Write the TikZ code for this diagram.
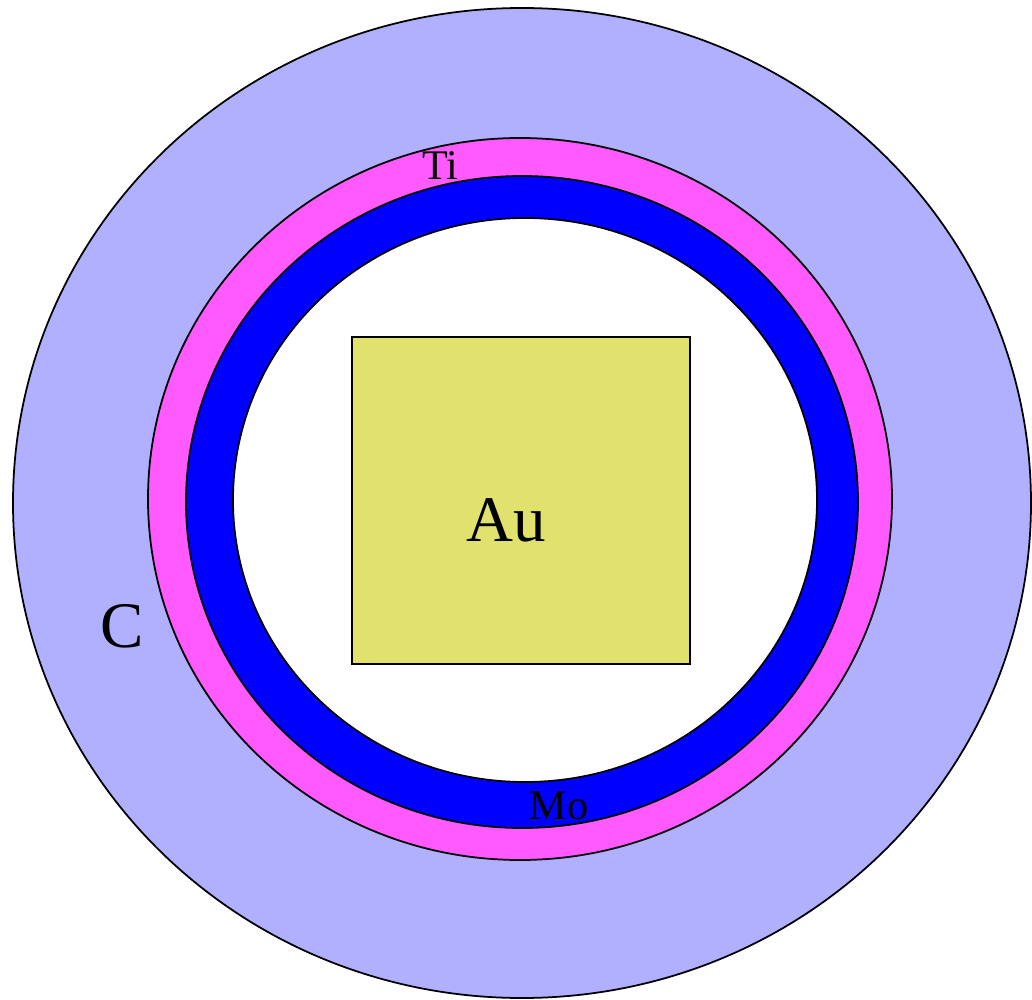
\documentclass[tikz,border=0pt]{standalone}
\usepackage{fontspec}
\setmainfont{Liberation Serif}
\definecolor{carbon}{RGB}{176,176,255}
\definecolor{titan}{RGB}{255,90,255}
\definecolor{molyb}{RGB}{0,0,255}
\definecolor{gold}{RGB}{225,225,110}
\tikzset{
  layer/.style={draw=black, line width=1pt},
  small/.style={font=\fontsize{24}{28}\selectfont, inner sep=0pt},
  big/.style={font=\fontsize{37}{44}\selectfont, inner sep=0pt}
}
\begin{document}
\begin{tikzpicture}[x=0.02cm, y=-0.02cm]
            \useasboundingbox (0,0) rectangle (1032,1000);
            \clip (0,0) rectangle (1032,1000);
            
            % C (outer shell)
            \draw[layer, fill=carbon] (522,503) ellipse [x radius=509, y radius=495];
            
            % Ti
            \draw[layer, fill=titan] (520,499) ellipse [x radius=372, y radius=361];
            
            % Mo
            \draw[layer, fill=molyb] (522,502) ellipse [x radius=336, y radius=326];
            
            % inside
            \draw[layer, fill=white] (525,500) ellipse [x radius=292, y radius=282];
            
            % Au
            \draw[layer, fill=gold] (352,337) rectangle (690,664);
            
            % Labels
            \node[small] (ti) at (440,166) {Ti};
            \node[small] (mo) at (559,806) {Mo};
            \node[big] (au) at (506,520) {Au};
            \node[big] (c) at (122,626) {C};
        \end{tikzpicture}
\end{document}
